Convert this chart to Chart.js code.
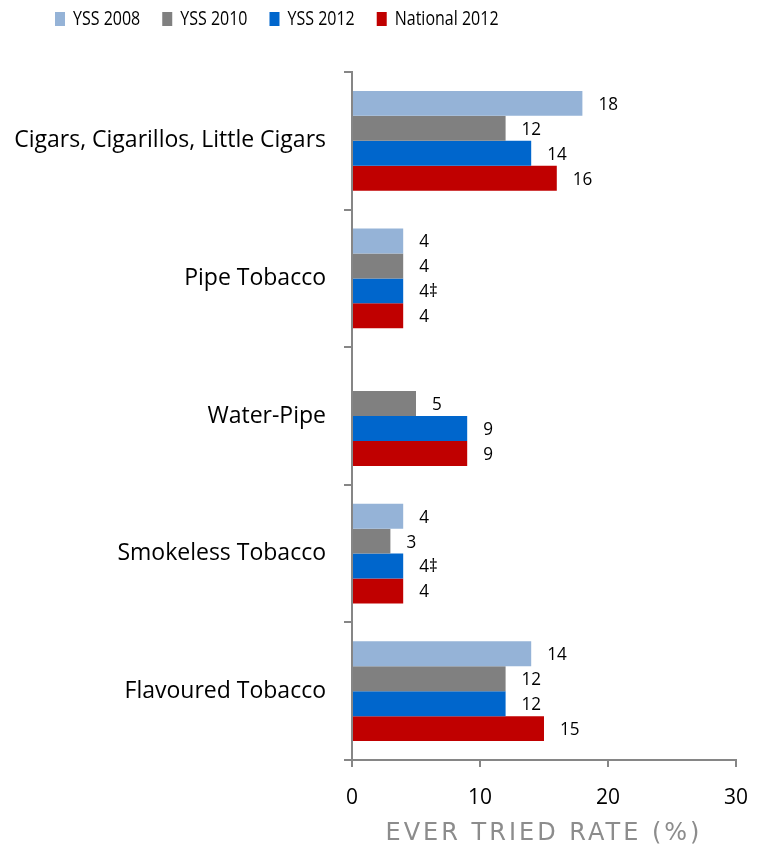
<!DOCTYPE html>
<html>
<head>
<meta charset="utf-8">
<script src="https://cdn.jsdelivr.net/npm/chart.js@4"></script>
<style>
  html, body { margin: 0; padding: 0; background: #fff; }
  #wrap { width: 766px; height: 850px; }
</style>
</head>
<body>
<div id="wrap"><canvas id="tobaccoChart"></canvas></div>
<script>
// chart data
const categories = ['Cigars, Cigarillos, Little Cigars', 'Pipe Tobacco', 'Water-Pipe', 'Smokeless Tobacco', 'Flavoured Tobacco'];
const yss2008 = [18, 4, null, 4, 14];
const yss2010 = [12, 4, 5, 3, 12];
const yss2012 = [14, 4, 9, 4, 12];
const national2012 = [16, 4, 9, 4, 15];
// footnote marks shown after some YSS 2012 values
const yss2012Notes = ['', '‡', '', '‡', ''];
const xTicks = [0, 10, 20, 30];

const axisGray = '#868686';
const legendSqueeze = 0.8;
const ctx = document.getElementById('tobaccoChart').getContext('2d');

// draw the value next to each bar (slightly condensed, like the original)
const valueLabels = {
    id: 'valueLabels',
    afterDatasetsDraw(chart) {
        const c = chart.ctx;
        chart.data.datasets.forEach((ds, i) => {
            const meta = chart.getDatasetMeta(i);
            meta.data.forEach((bar, j) => {
                const v = ds.data[j];
                if (v === null) return;
                const note = ds.notes ? ds.notes[j] : '';
                c.save();
                c.font = '19px "Open Sans"';
                c.fillStyle = '#000';
                c.textAlign = 'left';
                c.textBaseline = 'middle';
                c.translate(bar.x + 16, bar.y + 1);
                c.scale(0.9, 1);
                c.fillText(v + note, 0, 0);
                c.restore();
            });
        });
    }
};

// push the plot area down below the legend, condense the legend,
// space out the axis title
const layoutTweaks = {
    id: 'layoutTweaks',
    beforeInit(chart) {
        const fit = chart.legend.fit;
        chart.legend.fit = function () {
            fit.bind(chart.legend)();
            this.height = 90.5;
        };
    },
    afterLayout(chart) {
        chart.legend.left += 41.25;
    },
    beforeDraw(chart) {
        if (chart._patched) return;
        const xs = chart.scales.x;
        const origTitle = xs.drawTitle;
        xs.drawTitle = function () {
            this.ctx.save();
            this.ctx.letterSpacing = '3px';
            origTitle.call(this);
            this.ctx.restore();
        };
        const lg = chart.legend;
        const origLegend = lg.draw;
        lg.draw = function (area) {
            this.ctx.save();
            this.ctx.scale(legendSqueeze, 1);
            origLegend.call(this, area);
            this.ctx.restore();
        };
        chart._patched = true;
    }
};

const chart = new Chart(ctx, {
    type: 'bar',
    data: {
        labels: categories,
        datasets: [
            { label: 'YSS 2008', data: yss2008, backgroundColor: '#95B3D7' },
            { label: 'YSS 2010', data: yss2010, backgroundColor: '#808080' },
            { label: 'YSS 2012', data: yss2012, backgroundColor: '#0066CC', notes: yss2012Notes },
            { label: 'National 2012', data: national2012, backgroundColor: '#C00000' }
        ]
    },
    options: {
        indexAxis: 'y',
        responsive: true,
        maintainAspectRatio: false,
        animation: false,
        categoryPercentage: 0.725,
        barPercentage: 1,
        layout: { padding: { left: 0, right: 30, top: -18.5, bottom: 0 } },
        plugins: {
            tooltip: { enabled: false },
            legend: {
                position: 'top',
                align: 'start',
                labels: {
                    boxWidth: 12.5,
                    boxHeight: 14,
                    padding: 27.5,
                    color: '#000',
                    font: { family: 'Open Sans', size: 20 }
                }
            }
        },
        scales: {
            x: {
                min: 0,
                max: 30,
                afterBuildTicks(scale) {
                    scale.ticks = xTicks.map(v => ({ value: v }));
                },
                afterFit(scale) {
                    scale.height = 90;
                },
                border: { color: axisGray, width: 2 },
                grid: { drawOnChartArea: false, tickLength: 7, tickColor: axisGray, lineWidth: 2 },
                ticks: { color: '#000', padding: 18, font: { family: 'Open Sans', size: 21 } },
                title: {
                    display: true,
                    text: 'EVER TRIED RATE (%)',
                    color: '#8c8c8c',
                    padding: { top: 0, bottom: 2 },
                    font: { family: 'DejaVu Sans', size: 24 }
                }
            },
            y: {
                afterFit(scale) {
                    scale.width = 352;
                },
                border: { color: axisGray, width: 2 },
                grid: { offset: true, drawOnChartArea: false, tickLength: 8, tickColor: axisGray, lineWidth: 2 },
                ticks: { color: '#000', padding: 18, font: { family: 'Open Sans', size: 23 } }
            }
        }
    },
    plugins: [valueLabels, layoutTweaks]
});
</script>
</body>
</html>
